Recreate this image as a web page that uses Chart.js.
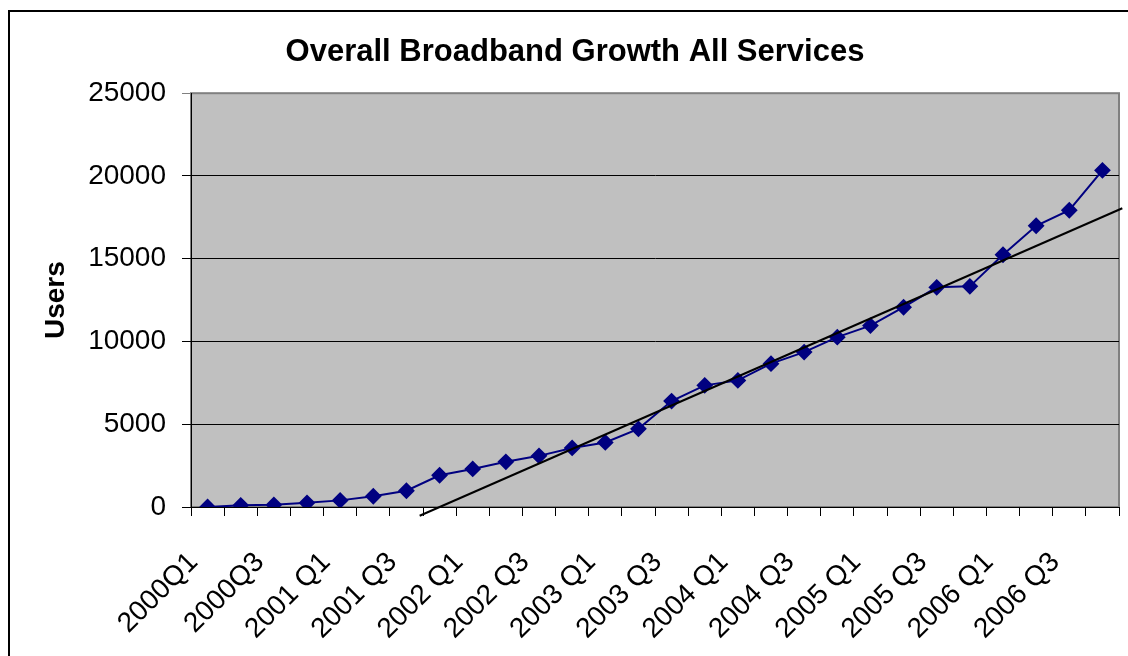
<!DOCTYPE html>
<html>
<head>
<meta charset="utf-8">
<script src="https://cdn.jsdelivr.net/npm/chart.js@4"></script>
<style>
  html, body { margin: 0; padding: 0; background: #fff; overflow: hidden; }
  #frame { position: absolute; left: 8px; top: 10px; width: 1300px; height: 800px; border: 2px solid #000; }
  #chart { position: absolute; left: 0; top: 0; }
</style>
</head>
<body>
<div id="frame"></div>
<canvas id="chart" width="1128" height="656"></canvas>
<script>
// quarters 2000Q1 .. 2006Q4
const quarters = [
  '2000Q1', '2000Q2', '2000Q3', '2000Q4',
  '2001 Q1', '2001 Q2', '2001 Q3', '2001 Q4',
  '2002 Q1', '2002 Q2', '2002 Q3', '2002 Q4',
  '2003 Q1', '2003 Q2', '2003 Q3', '2003 Q4',
  '2004 Q1', '2004 Q2', '2004 Q3', '2004 Q4',
  '2005 Q1', '2005 Q2', '2005 Q3', '2005 Q4',
  '2006 Q1', '2006 Q2', '2006 Q3', '2006 Q4'
];
const users = [
  0, 100, 130, 250, 400, 650, 980, 1920,
  2300, 2730, 3090, 3570, 3900, 4720, 6400, 7350,
  7650, 8660, 9360, 10260, 10960, 12070, 13270, 13330,
  15240, 16990, 17930, 20340
];
// linear trend line end points (quarter index, users)
const trendX = [6.4, 27.6];
const trendY = [-530, 18050];
const yTicks = [0, 5000, 10000, 15000, 20000, 25000];

const FONT = "'Liberation Sans', Arial, sans-serif";

const plotBg = {
  id: 'plotBg',
  beforeDraw(chart) {
    const { ctx, chartArea: a } = chart;
    ctx.save();
    ctx.fillStyle = '#C0C0C0';
    ctx.fillRect(a.left, a.top, a.right - a.left, a.bottom - a.top);
    ctx.strokeStyle = '#808080';
    ctx.lineWidth = 2;
    ctx.strokeRect(a.left, a.top, a.right - a.left, a.bottom - a.top);
    ctx.restore();
  }
};

const series = users.map((v, i) => ({ x: i, y: v }));
const trend = trendX.map((x, i) => ({ x, y: trendY[i] }));

new Chart(document.getElementById('chart'), {
  type: 'line',
  data: {
    datasets: [
      {
        data: trend,
        borderColor: '#000',
        borderWidth: 2,
        pointRadius: 0,
        clip: false,
        xAxisID: 'x'
      },
      {
        data: series,
        borderColor: '#000080',
        borderWidth: 2,
        pointStyle: 'rectRot',
        pointRadius: 7,
        pointBackgroundColor: '#000080',
        pointBorderColor: '#000080',
        tension: 0,
        xAxisID: 'x'
      }
    ]
  },
  options: {
    responsive: false,
    animation: false,
    layout: { padding: { left: 29, right: 7, top: 15, bottom: 0 } },
    plugins: {
      legend: { display: false },
      tooltip: { enabled: false },
      title: {
        display: true,
        text: 'Overall Broadband Growth All Services',
        color: '#000',
        font: { family: FONT, size: 31, weight: 'bold' },
        padding: { top: 19, bottom: 22 }
      }
    },
    scales: {
      x: {
        type: 'linear',
        position: 'bottom',
        weight: 0,
        min: -0.5,
        max: 27.5,
        afterBuildTicks: s => { s.ticks = quarters.concat(['']).map((_, i) => ({ value: i - 0.5 })); },
        afterFit: s => { s.height = 9; },
        ticks: { display: false },
        grid: { drawOnChartArea: false, drawTicks: true, tickLength: 9, color: '#000' },
        border: { display: true, color: '#000', width: 1 }
      },
      xl: {
        type: 'linear',
        position: 'bottom',
        weight: 1,
        min: -0.5,
        max: 27.5,
        afterBuildTicks: s => { s.ticks = quarters.map((q, i) => i).filter(i => i % 2 === 0).map(i => ({ value: i })); },
        afterFit: s => { s.height = 140; },
        grid: { display: false, drawTicks: false },
        border: { display: false },
        ticks: {
          autoSkip: false,
          minRotation: 45,
          maxRotation: 45,
          padding: 30,
          labelOffset: -14,
          color: '#000',
          font: { family: FONT, size: 28 },
          callback: v => quarters[v]
        }
      },
      y: {
        min: 0,
        max: 25000,
        afterBuildTicks: s => { s.ticks = yTicks.map(v => ({ value: v })); },
        afterFit: s => { s.width = 162; },
        grid: {
          color: c => (c.tick && c.tick.value === 25000 ? '#808080' : '#000'),
          lineWidth: 1,
          tickLength: 9
        },
        border: { display: true, color: '#000', width: 1 },
        ticks: {
          padding: 16,
          color: '#000',
          font: { family: FONT, size: 28 },
          callback: v => String(v)
        },
        title: {
          display: true,
          text: 'Users',
          color: '#000',
          font: { family: FONT, size: 28, weight: 'bold' },
          padding: { top: 10, bottom: 0 }
        }
      }
    }
  },
  plugins: [plotBg]
});
</script>
</body>
</html>
